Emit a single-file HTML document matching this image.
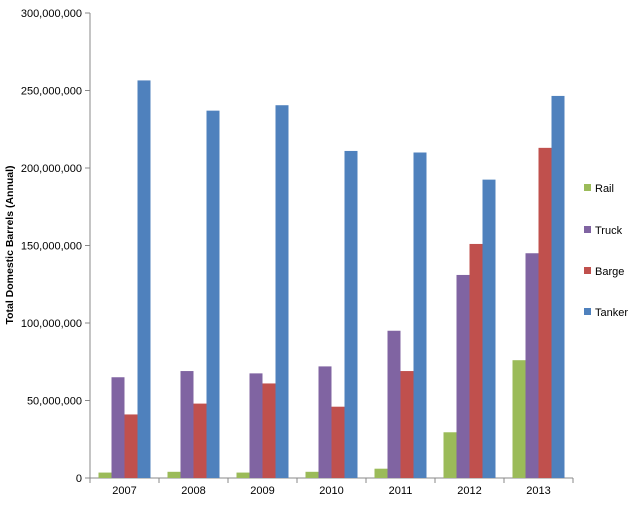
<!DOCTYPE html>
<html><head><meta charset="utf-8"><style>
body{margin:0;background:#fff;font-family:"Liberation Sans",Arial,sans-serif;}
svg text{font-family:"Liberation Sans",Arial,sans-serif;font-size:11px;fill:#000;}
</style></head><body>
<svg id="chart" width="630" height="501" xmlns="http://www.w3.org/2000/svg">
<text transform="translate(13,245) rotate(-90)" text-anchor="middle" style="font-weight:bold;font-size:10.5px">Total Domestic Barrels (Annual)</text>
<g id="plot"></g>
</svg>
<script>
const years=["2007","2008","2009","2010","2011","2012","2013"];
const rail=[3.5,4,3.5,4,6,29.5,76];
const truck=[65,69,67.5,72,95,131,145];
const barge=[41,48,61,46,69,151,213];
const tanker=[256.5,237,240.5,211,210,192.5,246.5];
const seriesNames=["Rail","Truck","Barge","Tanker"];
const yTicks=[0,50,100,150,200,250,300];
const yTickLabels=["0","50,000,000","100,000,000","150,000,000","200,000,000","250,000,000","300,000,000"];
const colors=["#9BBB59","#8064A2","#C0504D","#4F81BD"];
const series=[rail,truck,barge,tanker];
const NS="http://www.w3.org/2000/svg";
const g=document.getElementById("plot");
const x0=90,x1=573,yTop=13,yBot=478,yMax=300;
const y=v=>yBot-(v/yMax)*(yBot-yTop);
const slot=(x1-x0)/years.length;
const xc=i=>x0+slot*(i+0.5);
const bw=13;
function mk(t,a){const e=document.createElementNS(NS,t);for(const k in a)e.setAttribute(k,a[k]);g.appendChild(e);return e;}
let ax=mk("line",{x1:x0,y1:yTop,x2:x0,y2:yBot,stroke:"#888"});


let bx=mk("line",{x1:x0,y1:yBot,x2:x1,y2:yBot,stroke:"#888"});


yTicks.forEach((v,i)=>{
 const tk=mk("line",{x1:x0-5,y1:y(v),x2:x0,y2:y(v),stroke:"#888"});
 
 
 const t=mk("text",{x:x0-8,y:y(v)+4,"text-anchor":"end"});t.textContent=yTickLabels[i];
 
 
});
for(let i=0;i<=years.length;i++){
 const tk=mk("line",{x1:x0+slot*i,y1:yBot,x2:x0+slot*i,y2:yBot+5,stroke:"#888"});
 
 
}
years.forEach((yr,i)=>{
 const t=mk("text",{x:xc(i),y:yBot+16,"text-anchor":"middle"});t.textContent=yr;
 
 
 series.forEach((s,j)=>{
  const bx0=xc(i)-2*bw+j*bw;
  const r=mk("rect",{x:bx0,y:y(s[i]),width:bw,height:yBot-y(s[i]),fill:colors[j]});
  
  
 });
});
const legY=[188,230,271,312];
seriesNames.forEach((n,j)=>{
 const r=mk("rect",{x:584,y:legY[j]-4,width:7,height:7,fill:colors[j]});
 
 
 const t=mk("text",{x:595,y:legY[j]+4});t.textContent=n;
 
 
});
</script>
</body></html>
